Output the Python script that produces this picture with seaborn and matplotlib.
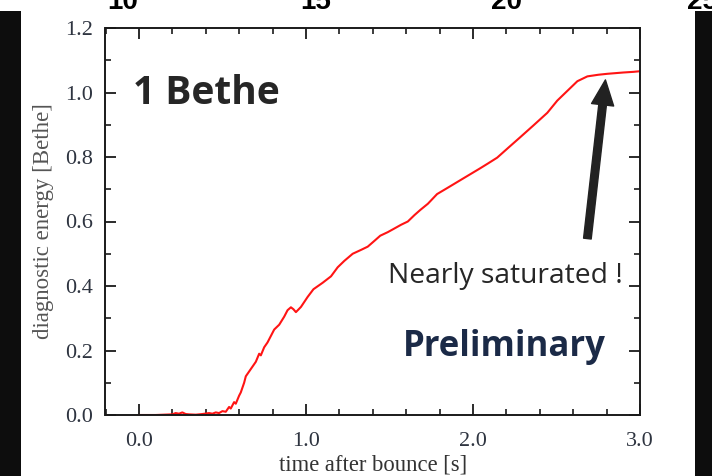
import matplotlib
matplotlib.use("Agg")
import matplotlib.pyplot as plt
from matplotlib.patches import Rectangle
from matplotlib.ticker import MultipleLocator, FixedLocator
import seaborn as sns
import pandas as pd

# ---------------- data ----------------
time_s = [0.00, 0.10, 0.20, 0.22, 0.24, 0.26, 0.28, 0.30, 0.34, 0.38, 0.42, 0.44,
          0.46, 0.48, 0.50, 0.52, 0.54, 0.55, 0.57, 0.58, 0.60, 0.61, 0.63, 0.64,
          0.66, 0.68, 0.70, 0.72, 0.73, 0.75, 0.77, 0.79, 0.81, 0.84, 0.87, 0.89,
          0.91, 0.925, 0.94, 0.97, 1.01, 1.045, 1.10, 1.15, 1.19, 1.23, 1.28, 1.33,
          1.37, 1.41, 1.445, 1.49, 1.525, 1.57, 1.61, 1.65, 1.685, 1.73, 1.785,
          1.85, 1.94, 2.04, 2.09, 2.145, 2.21, 2.28, 2.36, 2.445, 2.505, 2.565,
          2.625, 2.685, 2.75, 2.805, 2.90, 2.96, 3.00]
energy = [0.000, 0.000, 0.002, 0.006, 0.004, 0.008, 0.003, 0.002, 0.001, 0.003, 0.006, 0.004,
          0.008, 0.006, 0.012, 0.010, 0.025, 0.020, 0.040, 0.035, 0.060, 0.070, 0.100, 0.120,
          0.135, 0.150, 0.165, 0.190, 0.185, 0.210, 0.225, 0.245, 0.265, 0.280, 0.305, 0.325,
          0.334, 0.328, 0.319, 0.335, 0.366, 0.390, 0.410, 0.430, 0.458, 0.478, 0.500, 0.512,
          0.522, 0.540, 0.556, 0.567, 0.577, 0.590, 0.600, 0.620, 0.636, 0.655, 0.685,
          0.705, 0.733, 0.764, 0.780, 0.798, 0.828, 0.860, 0.897, 0.937, 0.975, 1.005,
          1.035, 1.050, 1.055, 1.058, 1.062, 1.064, 1.066]

x_ticks = [0.0, 1.0, 2.0, 3.0]
x_ticklabels = ["0.0", "1.0", "2.0", "3.0"]
y_ticks = [0.0, 0.2, 0.4, 0.6, 0.8, 1.0, 1.2]
y_ticklabels = ["0.0", "0.2", "0.4", "0.6", "0.8", "1.0", "1.2"]
top_strip_labels = ["10", "15", "20", "25"]

df = pd.DataFrame({"time": time_s, "energy": energy})

# ---------------- style ----------------
sns.set_theme(style="ticks")
plt.rcParams["font.family"] = ["DejaVu Sans"]

W, H = 712, 476
fig = plt.figure(figsize=(W / 100, H / 100), dpi=100, facecolor="white")

# black side bars
fig.patches.append(Rectangle((0, 0), 21 / W, 1 - 11 / H, transform=fig.transFigure,
                             facecolor="#0d0d0d", edgecolor="none", zorder=0))
fig.patches.append(Rectangle((695 / W, 0), 17 / W, 1 - 11 / H, transform=fig.transFigure,
                             facecolor="#0d0d0d", edgecolor="none", zorder=0))

# clipped labels of the slide strip above
for lab, xc in zip(top_strip_labels, [123, 316, 506, 702]):
    fig.text(xc / W, 1 - 9 / H, lab, ha="center", va="baseline", fontsize=20,
             fontweight="bold", color="black", family="Liberation Sans")

ax = fig.add_axes([105.5 / W, 1 - 415 / H, (640 - 105.5) / W, (415 - 28) / H])
ax.set_facecolor("white")

sns.lineplot(data=df, x="time", y="energy", ax=ax, color="#ff1414", linewidth=1.5,
             estimator=None, sort=False)

ax.set_xlim(-0.2, 3.0)
ax.set_ylim(0.0, 1.2)

ax.xaxis.set_major_locator(FixedLocator(x_ticks))
ax.set_xticklabels(x_ticklabels)
ax.xaxis.set_minor_locator(MultipleLocator(0.2))
ax.yaxis.set_major_locator(FixedLocator(y_ticks))
ax.set_yticklabels(y_ticklabels)
ax.yaxis.set_minor_locator(MultipleLocator(0.1))

tick_color = "#2e3440"
ax.tick_params(which="both", direction="in", top=True, right=True, color="#1a1a1a")
ax.tick_params(which="major", length=8, width=1.3, labelsize=16, labelcolor=tick_color)
ax.tick_params(axis="x", which="major", pad=12)
ax.tick_params(axis="y", which="major", pad=9)
ax.tick_params(which="minor", length=4, width=1.2)
for lab in ax.get_xticklabels() + ax.get_yticklabels():
    lab.set_family("Liberation Serif")

for sp in ax.spines.values():
    sp.set_visible(True)
    sp.set_linewidth(1.4)
    sp.set_color("#1a1a1a")

ax.set_xlabel("time after bounce [s]", fontsize=16.3, family="Liberation Serif",
              color="#333333", labelpad=3)
ax.set_ylabel("diagnostic energy [Bethe]", fontsize=16.5, family="Liberation Serif",
              color="#555555", labelpad=8)

# annotations
ax.text(-0.034, 0.965, "1 Bethe", fontsize=28, fontweight="bold", family="Open Sans",
        color="#262626", ha="left", va="baseline")
ax.text(1.493, 0.408, "Nearly saturated !", fontsize=20.3, family="Open Sans",
        color="#262626", ha="left", va="baseline")
ax.text(1.583, 0.1825, "Preliminary", fontsize=25, fontweight="bold", family="Open Sans",
        color="#1b2a47", ha="left", va="baseline")

ax.annotate("", xy=(2.793, 1.039), xytext=(2.685, 0.547),
            arrowprops=dict(facecolor="#222222", edgecolor="#222222", width=5.5,
                            headwidth=16, headlength=18, shrink=0.0))

fig.savefig("out.png", dpi=100, facecolor="white")
